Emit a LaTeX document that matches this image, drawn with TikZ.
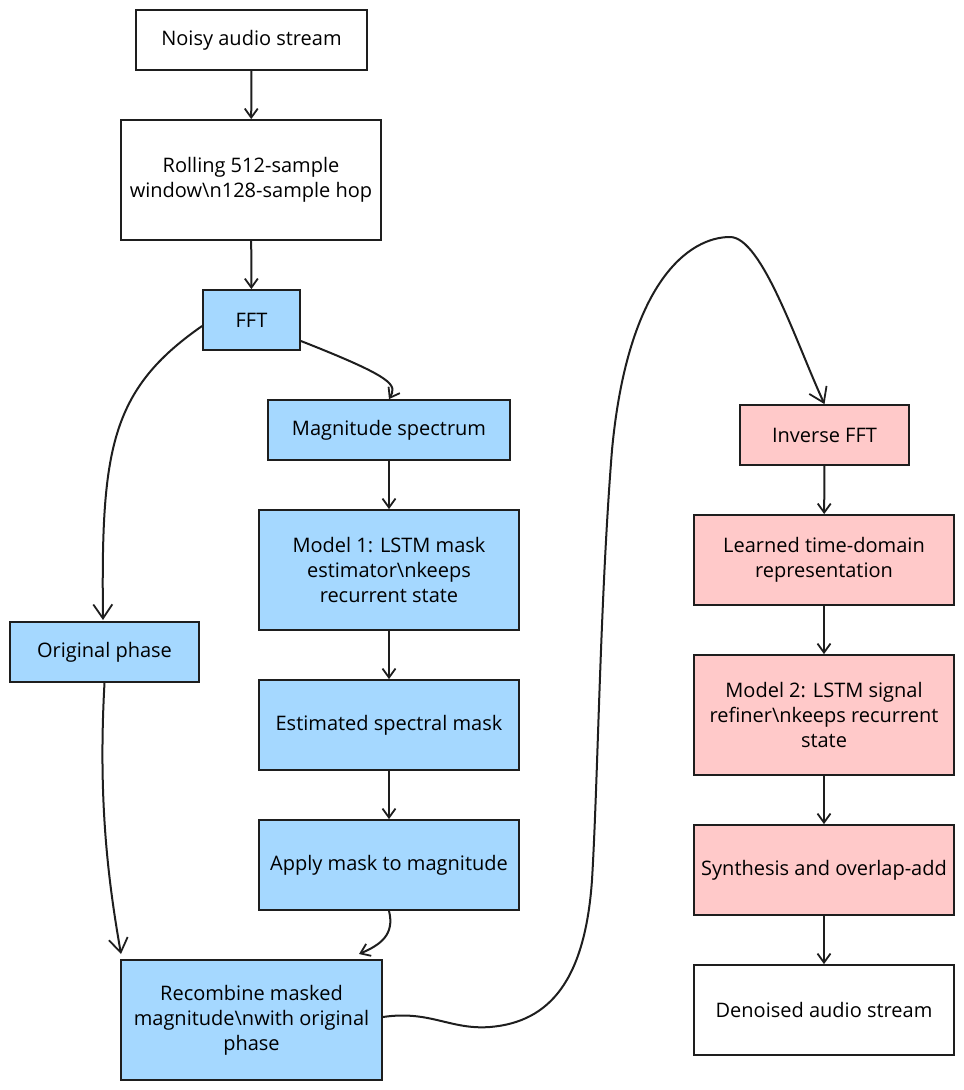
\documentclass[tikz,border=0pt]{standalone}
\usepackage{fontspec}
\setmainfont{Open Sans}
\usepackage{xcolor}
\usetikzlibrary{arrows.meta,positioning}
\definecolor{inkline}{HTML}{1E1E1E}
\definecolor{specblue}{HTML}{A5D8FF}
\definecolor{timered}{HTML}{FFC9C9}

\begin{document}
\begin{tikzpicture}[
  x=1pt, y=-1pt,
  plainbox/.style={draw=inkline, line width=1.8pt, fill=white, align=center, inner sep=2pt, font=\fontsize{20}{25}\selectfont},
  bluebox/.style={plainbox, fill=specblue},
  redbox/.style={plainbox, fill=timered},
  arr/.style={-{Straight Barb[length=9pt, width=13pt, line width=1.8pt]}, line width=2pt, draw=inkline},
  longarr/.style={-{Straight Barb[length=14pt, width=19pt, line width=1.8pt]}, line width=2pt, draw=inkline}
]
\useasboundingbox (0,0) rectangle (964,1090);
% left column: analysis side
\node[plainbox, minimum width=231pt, minimum height=60pt] (noisy) at (251.5,40) {Noisy audio stream};
\node[plainbox, minimum width=260pt, minimum height=120pt] (win) at (251,180) {Rolling 512-sample\\window\textbackslash n128-sample hop};
\node[bluebox, minimum width=97pt, minimum height=60pt] (fft) at (251.5,320) {FFT};
\node[bluebox, minimum width=242pt, minimum height=60pt] (mag) at (389,430) {Magnitude spectrum};
\node[bluebox, minimum width=260pt, minimum height=120pt] (m1) at (389,570) {Model 1: LSTM mask\\estimator\textbackslash nkeeps\\recurrent state};
\node[bluebox, minimum width=189pt, minimum height=60pt] (phase) at (104.5,652) {Original phase};
\node[bluebox, minimum width=260pt, minimum height=90pt] (mask) at (389,725) {Estimated spectral mask};
\node[bluebox, minimum width=260pt, minimum height=90pt] (apply) at (389,865) {Apply mask to magnitude};
\node[bluebox, minimum width=261pt, minimum height=120pt] (recomb) at (251.5,1020) {Recombine masked\\magnitude\textbackslash nwith original\\phase};
% right column: synthesis side
\node[redbox, minimum width=169pt, minimum height=60pt] (ifft) at (824.5,435) {Inverse FFT};
\node[redbox, minimum width=260pt, minimum height=90pt] (learn) at (824,560) {Learned time-domain\\representation};
\node[redbox, minimum width=260pt, minimum height=120pt] (m2) at (824,715) {Model 2: LSTM signal\\refiner\textbackslash nkeeps recurrent\\state};
\node[redbox, minimum width=260pt, minimum height=90pt] (synth) at (824,870) {Synthesis and overlap-add};
\node[plainbox, minimum width=260pt, minimum height=90pt] (clean) at (824,1010) {Denoised audio stream};

\draw[arr] (noisy)--(win);
\draw[arr] (win)--(fft);
\draw[longarr] (fft.west|-0,326) .. controls (110,390) and (101,450) .. (103,620);
\draw[arr] (fft.east|-0,341) .. controls (395,378) and (397,385) .. (mag.north);
\draw[arr] (mag)--(m1);
\draw[arr] (m1)--(mask);
\draw[arr] (mask)--(apply);
\draw[longarr] (phase.south) .. controls (98,800) and (108,880) .. (121,954);
\draw[arr] (apply.south) .. controls (395,935) and (380,945) .. (359,954);
\draw[longarr] (recomb.east|-0,1017) .. controls (430,1010) and (450,1030) .. (490,1027)
  .. controls (550,1022) and (585,980) .. (592,880)
  .. controls (598,780) and (600,600) .. (612,450)
  .. controls (628,280) and (690,237) .. (730,237)
  .. controls (762,237) and (797,345) .. (ifft.north);
\draw[arr] (ifft)--(learn);
\draw[arr] (learn)--(m2);
\draw[arr] (m2)--(synth);
\draw[arr] (synth)--(clean);
\end{tikzpicture}
\end{document}
